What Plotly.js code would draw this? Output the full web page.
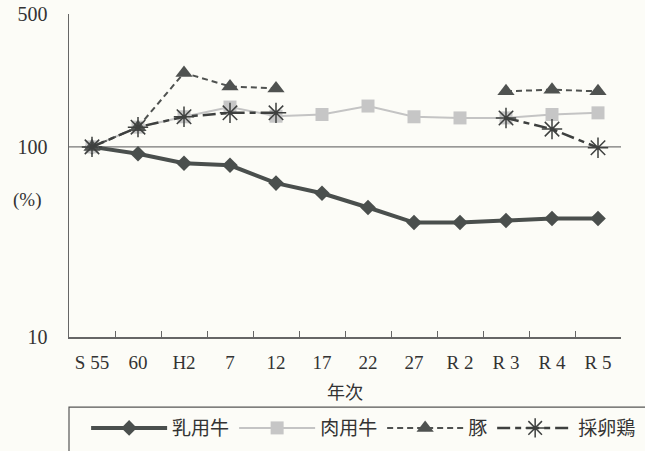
<!DOCTYPE html>
<html>
<head>
<meta charset="utf-8">
<script src="https://cdn.plot.ly/plotly-3.0.1.min.js"></script>
<style>html,body{margin:0;padding:0;background:#fcfcf7;}#chart{width:645px;height:451px;}</style>
</head>
<body>
<div id="chart"></div>
<script>
const categories = ['S 55', '60', 'H2', '7', '12', '17', '22', '27', 'R 2', 'R 3', 'R 4', 'R 5'];
const dairy  = [100, 92, 82, 80, 64.5, 57, 48, 40, 40, 41, 42, 42];
const beef   = [100, 127, 144, 162, 145, 148, 164, 144, 142, 142, 148, 151];
const pig    = [100, 127, 245, 208, 203, null, null, null, null, 196, 200, 196];
const layer  = [100, 127, 144, 151, 151, null, null, null, null, 142, 124, 99];
const seriesNames = ['乳用牛', '肉用牛', '豚', '採卵鶏'];
const yTickVals = [10, 100, 500];
const yTickText = ['10', '100', '500'];

const FONT = '"Liberation Serif", "Noto Sans CJK JP", serif';

const traces = [
  {x: categories, y: dairy, name: seriesNames[0], type: 'scatter', mode: 'lines+markers',
   line: {color: '#4a4f4d', width: 4}, marker: {symbol: 'diamond', size: 12, color: '#4a4f4d'}},
  {x: categories, y: beef, name: seriesNames[1], type: 'scatter', mode: 'lines+markers',
   line: {color: '#c4c4c4', width: 2}, marker: {symbol: 'square', size: 13, color: '#c6c6c6'}},
  {x: categories, y: pig, name: seriesNames[2], type: 'scatter', mode: 'lines+markers',
   line: {color: '#4f5250', width: 2, dash: '6px,4px'}, marker: {symbol: 'triangle-up', size: 15, color: '#4f5250'}},
  {x: categories, y: layer, name: seriesNames[3], type: 'scatter', mode: 'lines+markers',
   line: {color: '#3e403f', width: 2.5, dash: '13px,5px,6px,5px'},
   marker: {symbol: 'asterisk-open', size: 17, color: '#3e403f', line: {color: '#3e403f', width: 1.5}}}
];

const layout = {
  width: 645, height: 451,
  margin: {l: 69, r: 24, t: 14, b: 114},
  paper_bgcolor: '#fcfcf7', plot_bgcolor: 'rgba(0,0,0,0)',
  font: {family: FONT, size: 17, color: '#333'},
  showlegend: true,
  legend: {orientation: 'h', xref: 'paper', x: 0.031, xanchor: 'left',
           yref: 'container', y: 0.093, yanchor: 'top',
           font: {family: FONT, size: 19, color: '#333'}, bgcolor: 'rgba(0,0,0,0)',
           itemwidth: 76, traceorder: 'normal'},
  xaxis: {type: 'category', range: [-0.5, 11.5], showline: true, linecolor: '#666', linewidth: 1.5,
          ticks: 'inside', tickson: 'boundaries', ticklen: 6, tickcolor: '#666', automargin: false,
          showgrid: false, zeroline: false, fixedrange: true, ticklabelstandoff: 8,
          tickfont: {family: FONT, size: 19, color: '#333'},
          title: {text: '年次', font: {family: FONT, size: 18, color: '#333'}, standoff: 14}},
  yaxis: {type: 'log', range: [1, Math.log10(500)], tickvals: yTickVals, ticktext: yTickText,
          showline: true, linecolor: '#666', linewidth: 1.5, ticks: '', showgrid: false, automargin: false,
          zeroline: false, ticklabelstandoff: 16, fixedrange: true,
          tickfont: {family: FONT, size: 20, color: '#333'}},
  shapes: [
    {type: 'line', xref: 'paper', yref: 'y', x0: 0, x1: 1, y0: 100, y1: 100,
     line: {color: '#777', width: 1.2}, layer: 'below'},
    {type: 'rect', xref: 'paper', yref: 'paper', x0: 0, x1: 1.2, y0: -0.217, y1: -0.6,
     line: {color: '#555', width: 1.2}}
  ],
  annotations: [
    {xref: 'paper', yref: 'paper', x: -0.076, y: 0.424, xanchor: 'center', yanchor: 'middle',
     text: '(%)', showarrow: false, font: {family: FONT, size: 19, color: '#333'}}
  ]
};

Plotly.newPlot('chart', traces, layout, {displayModeBar: false, staticPlot: true});
</script>
</body>
</html>
